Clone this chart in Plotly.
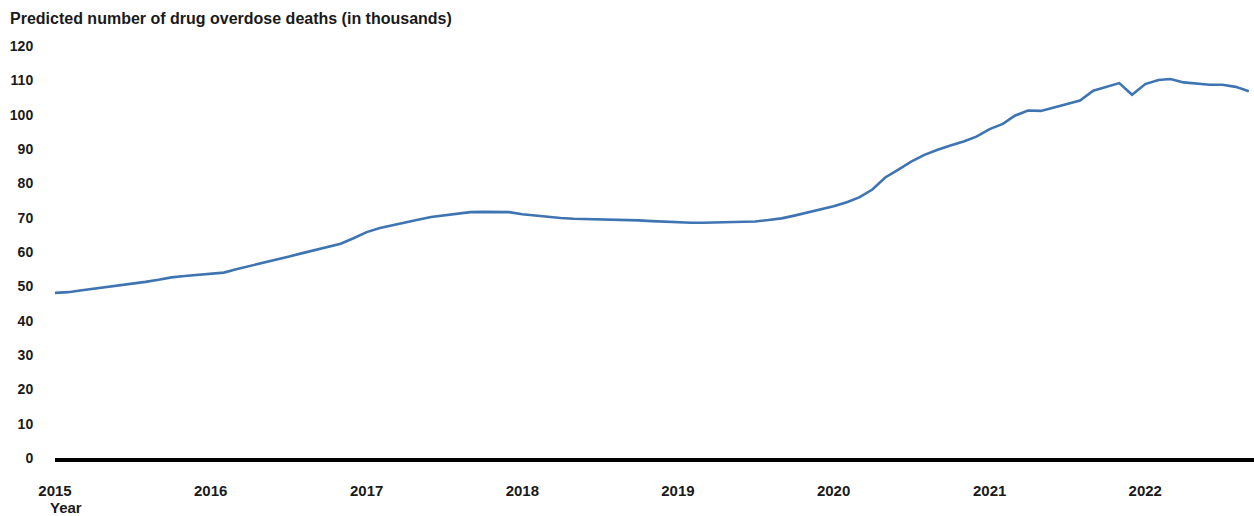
import plotly.graph_objects as go
import pandas as pd

# monthly predicted 12-month-ending drug overdose deaths, thousands (Jan 2015 - Sep 2022)
months = pd.date_range("2015-01-01", "2022-09-01", freq="MS")
deaths = [
    48.1, 48.3, 48.8, 49.3, 49.8, 50.2, 50.7, 51.3, 51.9, 52.6, 53.0, 53.3,
    53.6, 54.0, 55.0, 55.9, 56.8, 57.6, 58.6, 59.6, 60.5, 61.3, 62.4, 64.0,
    65.8, 67.0, 67.8, 68.6, 69.4, 70.2, 70.6, 71.0, 71.6, 71.7, 71.7, 71.6,
    71.0, 70.6, 70.2, 69.9, 69.7, 69.6, 69.6, 69.6, 69.3, 69.2, 69.0, 68.8,
    68.6, 68.5, 68.5, 68.6, 68.6, 68.7, 68.9, 69.3, 69.8, 70.6, 71.5, 72.3,
    73.3, 74.5, 75.9, 78.2, 81.7, 84.0, 86.3, 88.3, 89.8, 91.0, 92.2, 93.6,
    95.8, 97.3, 99.7, 101.2, 101.1, 102.1, 103.0, 104.1, 107.0, 108.1, 109.2, 105.8,
    108.9, 110.1, 110.4, 109.4, 109.0, 108.7, 108.7, 108.1, 106.8,
]
year_ticks = [f"{y}-01-01" for y in range(2015, 2023)]
year_labels = [str(y) for y in range(2015, 2023)]
y_ticks = list(range(0, 121, 10))

font = dict(family="Liberation Sans, Arial, sans-serif", size=14, color="#1a1a1a")

W, H = 1254, 516
L, R, T, B = 55, 0, 46, 58
PW, PH = W - L - R, H - T - B

fig = go.Figure()
fig.add_trace(go.Scatter(
    x=months, y=deaths, mode="lines",
    line=dict(color="#3d74b1", width=2.6),
    showlegend=False,
))

fig.update_layout(
    width=W, height=H,
    margin=dict(l=L, r=R, t=T, b=B),
    paper_bgcolor="white", plot_bgcolor="white",
    font=font,
    annotations=[
        dict(text="<b>Predicted number of drug overdose deaths (in thousands)</b>",
             x=(8 - L) / PW, y=1 + (T - 18) / PH, xref="paper", yref="paper",
             xanchor="left", yanchor="middle", showarrow=False,
             font=dict(size=16)),
        dict(text="<b>Year</b>", x=(66 - L) / PW, y=-(507 - T - PH) / PH,
             xref="paper", yref="paper", xanchor="center", yanchor="middle",
             showarrow=False, font=dict(size=15)),
    ],
)

fig.update_xaxes(
    range=["2015-01-01", "2022-09-13"],
    tickvals=year_ticks, ticktext=[f"<b>{t}</b>" for t in year_labels],
    showgrid=False, zeroline=False, automargin=False,
    showline=True, linecolor="black", linewidth=4,
    ticks="outside", ticklen=16, tickcolor="rgba(0,0,0,0)",
    tickfont=dict(size=15),
)
fig.update_yaxes(
    range=[0, 120],
    tickvals=y_ticks, ticktext=[f"<b>{t}</b>" for t in y_ticks],
    showgrid=False, zeroline=False, showline=False, automargin=False,
    ticks="outside", ticklen=18, tickcolor="rgba(0,0,0,0)",
    tickfont=font,
)

# drop the default 8px page margin so the figure sits at the window's corner
fig.write_html("out.html", config={"displayModeBar": False},
               post_script="document.body.style.margin='0';")
